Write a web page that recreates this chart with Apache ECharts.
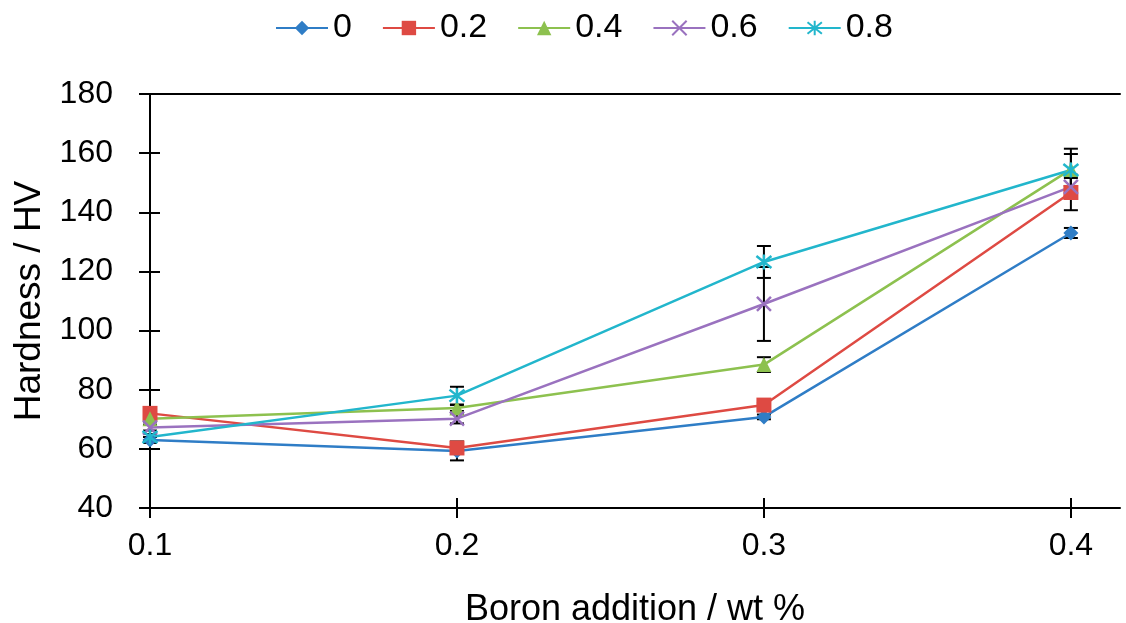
<!DOCTYPE html>
<html>
<head>
<meta charset="utf-8">
<script src="https://cdn.jsdelivr.net/npm/echarts@6/dist/echarts.min.js"></script>
<style>
html,body{margin:0;padding:0;background:#fff;}
#chart{width:1126px;height:623px;}
</style>
</head>
<body>
<div id="chart"></div>
<script>
// boron addition (x) and hardness per series
var boron = [0.1, 0.2, 0.3, 0.4];
var names = ['0', '0.2', '0.4', '0.6', '0.8'];
var hv0  = [63.0, 59.3, 70.8, 133.0];
var hv02 = [72.0, 60.3, 74.8, 146.7];
var hv04 = [70.2, 73.8, 88.5, 154.5];
var hv06 = [67.2, 70.2, 109.0, 148.6];
var hv08 = [64.0, 78.0, 123.2, 154.3];
// error bars (+/-)
var err0  = [1.0, 3.2, 0.8, 1.7];
var err02 = [1.0, 1.0, 0.8, 6.0];
var err04 = [1.0, 1.0, 2.5, 7.0];
var err06 = [1.0, 1.6, 12.5, 3.0];
var err08 = [1.0, 3.0, 5.4, 5.4];

var chart = echarts.init(document.getElementById('chart'));

var colors = ['#2f7dc6', '#de4a43', '#8dc14f', '#9a72bf', '#22b6cc'];
var symbols = ['diamond', 'rect', 'triangle',
	'path://M1,1L9,9M1,9L9,1',
	'path://M1,1L9,9M1,9L9,1M5,0L5,10'];
var symSizes = [15, 15, 15, 14, 15];
var vals = [hv0, hv02, hv04, hv06, hv08];
var errs = [err0, err02, err04, err06, err08];
var font = '"Liberation Sans", Arial, sans-serif';

var series = [];
var errData = [];
for (var i = 0; i < names.length; i++) {
	var d = [];
	for (var j = 0; j < boron.length; j++) {
		d.push([boron[j], vals[i][j]]);
		errData.push([boron[j], vals[i][j] - errs[i][j], vals[i][j] + errs[i][j]]);
	}
	var path = symbols[i].indexOf('path://') === 0;
	series.push({
		name: names[i],
		type: 'line',
		data: d,
		symbol: symbols[i],
		symbolSize: symSizes[i],
		z: 3,
		lineStyle: {color: colors[i], width: 2.5},
		itemStyle: {
			color: colors[i],
			borderColor: colors[i],
			borderWidth: path ? 2.5 : 0
		}
	});
}

series.unshift({
	name: 'err',
	type: 'custom',
	z: 2,
	data: errData,
	encode: {x: 0, y: [1, 2]},
	renderItem: function (params, api) {
		var top = api.coord([api.value(0), api.value(2)]);
		var bot = api.coord([api.value(0), api.value(1)]);
		var c = 7;
		var st = {stroke: '#000', lineWidth: 2};
		return {
			type: 'group',
			children: [
				{type: 'line', shape: {x1: top[0], y1: top[1], x2: bot[0], y2: bot[1]}, style: st},
				{type: 'line', shape: {x1: top[0] - c, y1: top[1], x2: top[0] + c, y2: top[1]}, style: st},
				{type: 'line', shape: {x1: bot[0] - c, y1: bot[1], x2: bot[0] + c, y2: bot[1]}, style: st}
			]
		};
	}
});

var axisLine = {show: true, lineStyle: {color: '#000', width: 2}};

var option = {
	animation: false,
	backgroundColor: '#fff',
	textStyle: {fontFamily: font},
	legend: {
		data: names,
		left: 270,
		top: 6,
		itemWidth: 52,
		itemHeight: 18,
		itemGap: 30,
		textStyle: {fontSize: 34, color: '#000', fontFamily: font}
	},
	grid: {left: 150, right: 6, top: 94, bottom: 115, outerBoundsMode: 'none', containLabel: false},
	xAxis: [{
		type: 'value',
		min: 0.1,
		max: 0.416,
		position: 'bottom',
		name: 'Boron addition / wt %',
		nameLocation: 'middle',
		nameGap: 84,
		nameTextStyle: {fontSize: 36, color: '#000', fontFamily: font},
		axisLine: axisLine,
		axisTick: {show: true, inside: false, length: 10, customValues: boron,
			lineStyle: {color: '#000', width: 2}},
		axisLabel: {fontSize: 32, color: '#000', margin: 22, customValues: boron,
			formatter: function (v) { return String(v); }},
		splitLine: {show: false}
	}, {
		type: 'value',
		min: 0.1,
		max: 0.416,
		position: 'bottom',
		axisLine: {show: false},
		axisTick: {show: true, inside: true, length: 10, customValues: boron,
			lineStyle: {color: '#000', width: 2}},
		axisLabel: {show: false},
		splitLine: {show: false}
	}, {
		type: 'value',
		min: 0.1,
		max: 0.416,
		position: 'top',
		axisLine: axisLine,
		axisTick: {show: false},
		axisLabel: {show: false},
		splitLine: {show: false}
	}],
	yAxis: [{
		type: 'value',
		min: 40,
		max: 180,
		interval: 20,
		position: 'left',
		name: 'Hardness / HV',
		nameLocation: 'middle',
		nameGap: 99,
		nameTextStyle: {fontSize: 37, color: '#000', fontFamily: font},
		axisLine: axisLine,
		axisTick: {show: true, inside: false, length: 11, lineStyle: {color: '#000', width: 2}},
		axisLabel: {fontSize: 32, color: '#000', margin: 37},
		splitLine: {show: false}
	}, {
		type: 'value',
		min: 40,
		max: 180,
		interval: 20,
		position: 'left',
		axisLine: {show: false},
		axisTick: {show: true, inside: true, length: 10, lineStyle: {color: '#000', width: 2}},
		axisLabel: {show: false},
		splitLine: {show: false}
	}],
	series: series
};
chart.setOption(option);
</script>
</body>
</html>
